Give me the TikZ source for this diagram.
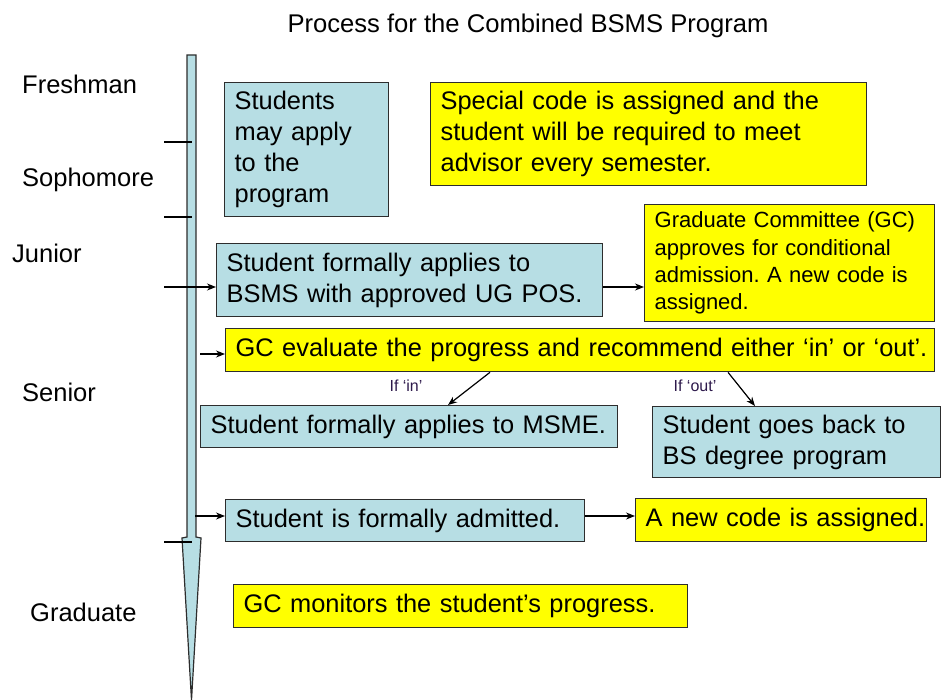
\documentclass[tikz,border=0pt]{standalone}
\usepackage{fontspec}
\setmainfont{Liberation Sans}
\usetikzlibrary{arrows.meta}
\definecolor{boxblue}{RGB}{183,222,228}
\definecolor{boxyellow}{RGB}{255,255,0}
\definecolor{edge}{RGB}{45,45,45}
\definecolor{iflabel}{RGB}{45,25,75}
\frenchspacing
\begin{document}
\begin{tikzpicture}[x=1pt,y=-1pt,
  box/.style={draw=edge, line width=1.3pt, anchor=north west, align=left, inner xsep=10pt, inner ysep=0pt, font=\fontsize{25.4}{31}\selectfont},
  bluebox/.style={box, fill=boxblue},
  yelbox/.style={box, fill=boxyellow},
  year/.style={anchor=base west, font=\fontsize{25.5}{30}\selectfont, inner sep=0pt},
  conn/.style={line width=1.2pt, -{Stealth[length=9pt,width=7pt]}},
  tickline/.style={line width=1.2pt},
  cond/.style={font=\fontsize{16}{19}\selectfont, text=iflabel, inner sep=0pt}
]
\useasboundingbox (0,0) rectangle (941,700);

% title
\node[font=\fontsize{25.6}{30}\selectfont, inner sep=0pt, anchor=base] (title) at (528,33) {Process for the Combined BSMS Program};

% timeline arrow
\draw[fill=boxblue, draw=edge, line width=1.2pt, line join=miter]
  (187,55) -- (196,55) -- (196,537) -- (201,538) -- (191.5,700) -- (182,538) -- (187,537) -- cycle;
\draw[tickline] (164,142) -- (192,142);
\draw[tickline] (164,217) -- (192,217);
\draw[tickline] (164,542) -- (192,542);

% year labels
\node[year] (fresh) at (22,94) {Freshman};
\node[year] (soph) at (22,187) {Sophomore};
\node[year] (jun) at (12,263) {Junior};
\node[year] (sen) at (22,401) {Senior};
\node[year] (grad) at (30,621) {Graduate};

% boxes
\node[bluebox, text width=144pt, minimum height=134pt] (apply) at (224,82)
  {Students\\may apply\\to the\\program};
\node[yelbox, text width=416pt, minimum height=103pt] (special) at (430,82)
  {\mbox{Special code is assigned and the}\\\mbox{student will be required to meet}\\\mbox{advisor every semester.}};
\node[bluebox, text width=366pt, minimum height=73pt] (bsms) at (216,243)
  {\mbox{Student formally applies to}\\\mbox{BSMS with approved UG POS.}};
\node[yelbox, text width=270pt, minimum height=117pt, font=\fontsize{22}{27.3}\selectfont] (gc) at (644,204)
  {\mbox{Graduate Committee (GC)}\\\mbox{approves for conditional}\\\mbox{admission. A new code is}\\\mbox{assigned.}};
\node[yelbox, text width=689pt, minimum height=43pt] (eval) at (225,328)
  {\mbox{GC evaluate the progress and recommend either ‘in’ or ‘out’.}};
\node[bluebox, text width=397pt, minimum height=42pt] (msme) at (200,405)
  {\mbox{Student formally applies to MSME.}};
\node[bluebox, text width=268pt, minimum height=71pt] (back) at (652,406)
  {\mbox{Student goes back to}\\\mbox{BS degree program}};
\node[bluebox, text width=339pt, minimum height=42pt] (adm) at (225,499)
  {\mbox{Student is formally admitted.}};
\node[yelbox, text width=271pt, minimum height=43pt] (newc) at (635,498)
  {\mbox{A new code is assigned.}};
\node[yelbox, text width=434pt, minimum height=43pt] (mon) at (233,584)
  {\mbox{GC monitors the student’s progress.}};

% condition labels
\node[cond] (ifin) at (406,386) {If ‘in’};
\node[cond] (ifout) at (695,386) {If ‘out’};

% connectors
\coordinate (jin) at (164,287);
\coordinate (ein) at (200,354);
\coordinate (ain) at (195,516);
\draw[conn] (jin) -- (jin -| bsms.west);
\draw[conn] (jin -| bsms.east) -- (jin -| gc.west);
\draw[conn] (ein) -- (ein -| eval.west);
\draw[conn] (ain) -- (ain -| adm.west);
\draw[conn] (ain -| adm.east) -- (ain -| newc.west);
\draw[conn] ([xshift=265pt]eval.south west) -- ([xshift=248pt]msme.north west);
\draw[conn] ([xshift=503pt]eval.south west) -- ([xshift=103pt]back.north west);
\end{tikzpicture}
\end{document}
